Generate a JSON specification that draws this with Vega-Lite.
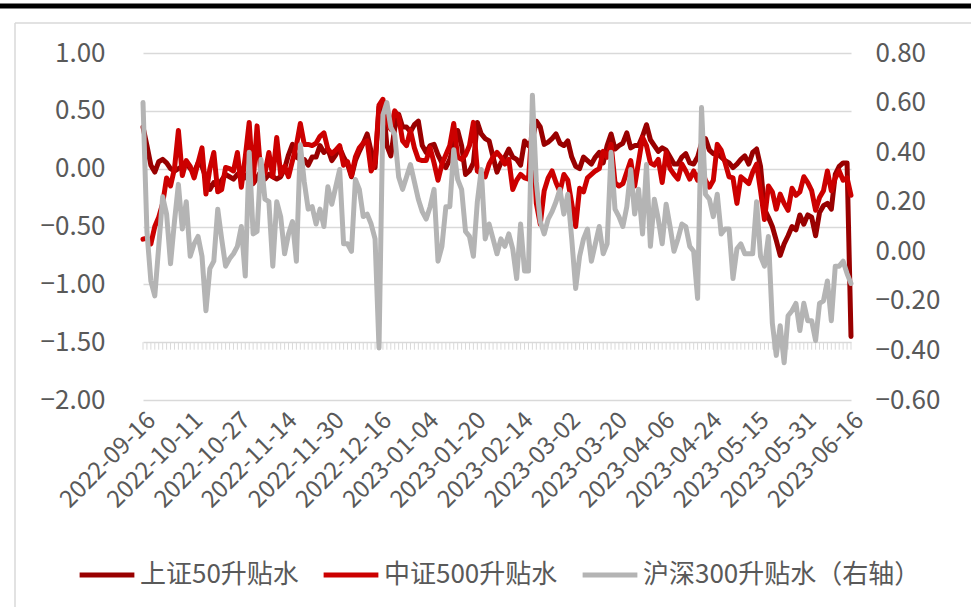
{
"$schema": "https://vega.github.io/schema/vega-lite/v6.json",
"width": 708, "height": 347,
"autosize": {"type": "none"},
"padding": {"left": 143, "top": 53, "right": 120, "bottom": 207},
"background": "white",
"config": {"view": {"stroke": null}},
"data": {"values": [
{"d":"2022-09-16","上证50升贴水":0.36,"中证500升贴水":-0.61,"沪深300升贴水（右轴）":0.60},
{"d":"2022-09-19","上证50升贴水":0.20,"中证500升贴水":-0.60,"沪深300升贴水（右轴）":0.08},
{"d":"2022-09-20","上证50升贴水":0.03,"中证500升贴水":-0.65,"沪深300升贴水（右轴）":-0.12},
{"d":"2022-09-21","上证50升贴水":-0.03,"中证500升贴水":-0.50,"沪深300升贴水（右轴）":-0.18},
{"d":"2022-09-22","上证50升贴水":0.06,"中证500升贴水":-0.42,"沪深300升贴水（右轴）":0.02},
{"d":"2022-09-23","上证50升贴水":0.08,"中证500升贴水":-0.30,"沪深300升贴水（右轴）":0.22},
{"d":"2022-09-26","上证50升贴水":0.05,"中证500升贴水":-0.08,"沪深300升贴水（右轴）":0.15},
{"d":"2022-09-27","上证50升贴水":0.00,"中证500升贴水":-0.15,"沪深300升贴水（右轴）":-0.05},
{"d":"2022-09-28","上证50升贴水":-0.02,"中证500升贴水":0.00,"沪深300升贴水（右轴）":0.12},
{"d":"2022-09-29","上证50升贴水":0.00,"中证500升贴水":0.33,"沪深300升贴水（右轴）":0.27},
{"d":"2022-09-30","上证50升贴水":0.02,"中证500升贴水":-0.06,"沪深300升贴水（右轴）":0.09},
{"d":"2022-10-10","上证50升贴水":0.05,"中证500升贴水":0.07,"沪深300升贴水（右轴）":0.20},
{"d":"2022-10-11","上证50升贴水":0.00,"中证500升贴水":0.02,"沪深300升贴水（右轴）":-0.02},
{"d":"2022-10-12","上证50升贴水":-0.03,"中证500升贴水":-0.08,"沪深300升贴水（右轴）":0.03},
{"d":"2022-10-13","上证50升贴水":0.05,"中证500升贴水":0.05,"沪深300升贴水（右轴）":0.06},
{"d":"2022-10-14","上证50升贴水":0.02,"中证500升贴水":0.18,"沪深300升贴水（右轴）":-0.02},
{"d":"2022-10-17","上证50升贴水":-0.08,"中证500升贴水":-0.22,"沪深300升贴水（右轴）":-0.24},
{"d":"2022-10-18","上证50升贴水":-0.18,"中证500升贴水":0.00,"沪深300升贴水（右轴）":-0.07},
{"d":"2022-10-19","上证50升贴水":-0.12,"中证500升贴水":0.14,"沪深300升贴水（右轴）":-0.04},
{"d":"2022-10-20","上证50升贴水":-0.15,"中证500升贴水":-0.20,"沪深300升贴水（右轴）":0.17},
{"d":"2022-10-21","上证50升贴水":-0.10,"中证500升贴水":-0.18,"沪深300升贴水（右轴）":0.05},
{"d":"2022-10-24","上证50升贴水":-0.05,"中证500升贴水":0.01,"沪深300升贴水（右轴）":-0.06},
{"d":"2022-10-25","上证50升贴水":-0.07,"中证500升贴水":0.00,"沪深300升贴水（右轴）":-0.03},
{"d":"2022-10-26","上证50升贴水":-0.09,"中证500升贴水":-0.02,"沪深300升贴水（右轴）":-0.01},
{"d":"2022-10-27","上证50升贴水":-0.05,"中证500升贴水":0.14,"沪深300升贴水（右轴）":0.02},
{"d":"2022-10-28","上证50升贴水":-0.02,"中证500升贴水":-0.16,"沪深300升贴水（右轴）":0.10},
{"d":"2022-10-31","上证50升贴水":-0.08,"中证500升贴水":0.10,"沪深300升贴水（右轴）":-0.10},
{"d":"2022-11-01","上证50升贴水":-0.03,"中证500升贴水":0.40,"沪深300升贴水（右轴）":0.40},
{"d":"2022-11-02","上证50升贴水":-0.13,"中证500升贴水":-0.12,"沪深300升贴水（右轴）":0.07},
{"d":"2022-11-03","上证50升贴水":-0.08,"中证500升贴水":0.37,"沪深300升贴水（右轴）":0.08},
{"d":"2022-11-04","上证50升贴水":-0.02,"中证500升贴水":-0.06,"沪深300升贴水（右轴）":0.37},
{"d":"2022-11-07","上证50升贴水":-0.09,"中证500升贴水":-0.04,"沪深300升贴水（右轴）":0.21},
{"d":"2022-11-08","上证50升贴水":-0.05,"中证500升贴水":0.14,"沪深300升贴水（右轴）":0.20},
{"d":"2022-11-09","上证50升贴水":-0.07,"中证500升贴水":-0.07,"沪深300升贴水（右轴）":-0.06},
{"d":"2022-11-10","上证50升贴水":-0.09,"中证500升贴水":0.27,"沪深300升贴水（右轴）":0.20},
{"d":"2022-11-11","上证50升贴水":-0.07,"中证500升贴水":-0.05,"沪深300升贴水（右轴）":0.14},
{"d":"2022-11-14","上证50升贴水":0.00,"中证500升贴水":0.02,"沪深300升贴水（右轴）":-0.01},
{"d":"2022-11-15","上证50升贴水":0.12,"中证500升贴水":-0.07,"沪深300升贴水（右轴）":0.07},
{"d":"2022-11-16","上证50升贴水":0.21,"中证500升贴水":0.07,"沪深300升贴水（右轴）":0.12},
{"d":"2022-11-17","上证50升贴水":0.10,"中证500升贴水":0.20,"沪深300升贴水（右轴）":-0.04},
{"d":"2022-11-18","上证50升贴水":0.08,"中证500升贴水":0.39,"沪深300升贴水（右轴）":0.43},
{"d":"2022-11-21","上证50升贴水":0.08,"中证500升贴水":0.21,"沪深300升贴水（右轴）":0.28},
{"d":"2022-11-22","上证50升贴水":0.03,"中证500升贴水":0.21,"沪深300升贴水（右轴）":0.17},
{"d":"2022-11-23","上证50升贴水":0.10,"中证500升贴水":0.20,"沪深300升贴水（右轴）":0.18},
{"d":"2022-11-24","上证50升贴水":0.10,"中证500升贴水":0.22,"沪深300升贴水（右轴）":0.11},
{"d":"2022-11-25","上证50升贴水":0.20,"中证500升贴水":0.28,"沪深300升贴水（右轴）":0.17},
{"d":"2022-11-28","上证50升贴水":0.14,"中证500升贴水":0.31,"沪深300升贴水（右轴）":0.10},
{"d":"2022-11-29","上证50升贴水":0.17,"中证500升贴水":0.17,"沪深300升贴水（右轴）":0.26},
{"d":"2022-11-30","上证50升贴水":0.07,"中证500升贴水":0.13,"沪深300升贴水（右轴）":0.19},
{"d":"2022-12-01","上证50升贴水":0.12,"中证500升贴水":0.16,"沪深300升贴水（右轴）":0.26},
{"d":"2022-12-02","上证50升贴水":0.18,"中证500升贴水":0.20,"沪深300升贴水（右轴）":0.33},
{"d":"2022-12-05","上证50升贴水":0.10,"中证500升贴水":0.03,"沪深300升贴水（右轴）":0.03},
{"d":"2022-12-06","上证50升贴水":0.04,"中证500升贴水":0.06,"沪深300升贴水（右轴）":0.03},
{"d":"2022-12-07","上证50升贴水":-0.07,"中证500升贴水":-0.06,"沪深300升贴水（右轴）":0.00},
{"d":"2022-12-08","上证50升贴水":0.07,"中证500升贴水":0.10,"沪深300升贴水（右轴）":0.29},
{"d":"2022-12-09","上证50升贴水":0.15,"中证500升贴水":0.18,"沪深300升贴水（右轴）":0.25},
{"d":"2022-12-12","上证50升贴水":0.22,"中证500升贴水":0.22,"沪深300升贴水（右轴）":0.14},
{"d":"2022-12-13","上证50升贴水":0.30,"中证500升贴水":0.24,"沪深300升贴水（右轴）":0.15},
{"d":"2022-12-14","上证50升贴水":0.15,"中证500升贴水":-0.02,"沪深300升贴水（右轴）":0.11},
{"d":"2022-12-15","上证50升贴水":0.01,"中证500升贴水":0.05,"沪深300升贴水（右轴）":0.05},
{"d":"2022-12-16","上证50升贴水":0.53,"中证500升贴水":0.55,"沪深300升贴水（右轴）":-0.39},
{"d":"2022-12-19","上证50升贴水":0.58,"中证500升贴水":0.60,"沪深300升贴水（右轴）":0.55},
{"d":"2022-12-20","上证50升贴水":0.20,"中证500升贴水":0.40,"沪深300升贴水（右轴）":0.60},
{"d":"2022-12-21","上证50升贴水":0.11,"中证500升贴水":0.34,"沪深300升贴水（右轴）":0.50},
{"d":"2022-12-22","上证50升贴水":0.35,"中证500升贴水":0.50,"沪深300升贴水（右轴）":0.47},
{"d":"2022-12-23","上证50升贴水":0.47,"中证500升贴水":0.45,"沪深300升贴水（右轴）":0.30},
{"d":"2022-12-26","上证50升贴水":0.36,"中证500升贴水":0.24,"沪深300升贴水（右轴）":0.25},
{"d":"2022-12-27","上证50升贴水":0.36,"中证500升贴水":0.20,"沪深300升贴水（右轴）":0.30},
{"d":"2022-12-28","上证50升贴水":0.32,"中证500升贴水":0.33,"沪深300升贴水（右轴）":0.35},
{"d":"2022-12-29","上证50升贴水":0.38,"中证500升贴水":0.18,"沪深300升贴水（右轴）":0.28},
{"d":"2022-12-30","上证50升贴水":0.41,"中证500升贴水":0.08,"沪深300升贴水（右轴）":0.21},
{"d":"2023-01-03","上证50升贴水":0.20,"中证500升贴水":0.07,"沪深300升贴水（右轴）":0.16},
{"d":"2023-01-04","上证50升贴水":0.14,"中证500升贴水":0.07,"沪深300升贴水（右轴）":0.13},
{"d":"2023-01-05","上证50升贴水":0.20,"中证500升贴水":0.18,"沪深300升贴水（右轴）":0.18},
{"d":"2023-01-06","上证50升贴水":0.21,"中证500升贴水":0.05,"沪深300升贴水（右轴）":0.25},
{"d":"2023-01-09","上证50升贴水":0.12,"中证500升贴水":-0.10,"沪深300升贴水（右轴）":-0.04},
{"d":"2023-01-10","上证50升贴水":0.05,"中证500升贴水":0.04,"沪深300升贴水（右轴）":0.02},
{"d":"2023-01-11","上证50升贴水":0.01,"中证500升贴水":0.12,"沪深300升贴水（右轴）":0.18},
{"d":"2023-01-12","上证50升贴水":0.08,"中证500升贴水":0.20,"沪深300升贴水（右轴）":0.18},
{"d":"2023-01-13","上证50升贴水":0.20,"中证500升贴水":0.39,"沪深300升贴水（右轴）":0.41},
{"d":"2023-01-16","上证50升贴水":0.33,"中证500升贴水":0.10,"沪深300升贴水（右轴）":0.29},
{"d":"2023-01-17","上证50升贴水":0.20,"中证500升贴水":0.08,"沪深300升贴水（右轴）":0.25},
{"d":"2023-01-18","上证50升贴水":-0.05,"中证500升贴水":0.12,"沪深300升贴水（右轴）":0.08},
{"d":"2023-01-19","上证50升贴水":-0.02,"中证500升贴水":0.20,"沪深300升贴水（右轴）":0.06},
{"d":"2023-01-20","上证50升贴水":0.05,"中证500升贴水":0.40,"沪深300升贴水（右轴）":-0.02},
{"d":"2023-01-30","上证50升贴水":0.40,"中证500升贴水":-0.02,"沪深300升贴水（右轴）":0.20},
{"d":"2023-01-31","上证50升贴水":0.30,"中证500升贴水":-0.04,"沪深300升贴水（右轴）":0.33},
{"d":"2023-02-01","上证50升贴水":0.26,"中证500升贴水":-0.07,"沪深300升贴水（右轴）":0.05},
{"d":"2023-02-02","上证50升贴水":0.24,"中证500升贴水":0.04,"沪深300升贴水（右轴）":0.11},
{"d":"2023-02-03","上证50升贴水":0.10,"中证500升贴水":0.10,"沪深300升贴水（右轴）":0.05},
{"d":"2023-02-06","上证50升贴水":-0.03,"中证500升贴水":0.14,"沪深300升贴水（右轴）":-0.01},
{"d":"2023-02-07","上证50升贴水":0.05,"中证500升贴水":0.10,"沪深300升贴水（右轴）":0.05},
{"d":"2023-02-08","上证50升贴水":0.10,"中证500升贴水":0.04,"沪深300升贴水（右轴）":0.02},
{"d":"2023-02-09","上证50升贴水":0.17,"中证500升贴水":0.08,"沪深300升贴水（右轴）":0.07},
{"d":"2023-02-10","上证50升贴水":0.10,"中证500升贴水":-0.18,"沪深300升贴水（右轴）":0.01},
{"d":"2023-02-13","上证50升贴水":0.08,"中证500升贴水":-0.10,"沪深300升贴水（右轴）":-0.11},
{"d":"2023-02-14","上证50升贴水":0.03,"中证500升贴水":-0.05,"沪深300升贴水（右轴）":0.11},
{"d":"2023-02-15","上证50升贴水":0.24,"中证500升贴水":-0.08,"沪深300升贴水（右轴）":-0.08},
{"d":"2023-02-16","上证50升贴水":0.20,"中证500升贴水":-0.09,"沪深300升贴水（右轴）":-0.08},
{"d":"2023-02-17","上证50升贴水":0.25,"中证500升贴水":0.39,"沪深300升贴水（右轴）":0.63},
{"d":"2023-02-20","上证50升贴水":0.41,"中证500升贴水":-0.30,"沪深300升贴水（右轴）":0.28},
{"d":"2023-02-21","上证50升贴水":0.36,"中证500升贴水":-0.48,"沪深300升贴水（右轴）":0.12},
{"d":"2023-02-22","上证50升贴水":0.21,"中证500升贴水":-0.19,"沪深300升贴水（右轴）":0.07},
{"d":"2023-02-23","上证50升贴水":0.23,"中证500升贴水":-0.08,"沪深300升贴水（右轴）":0.13},
{"d":"2023-02-24","上证50升贴水":0.26,"中证500升贴水":-0.02,"沪深300升贴水（右轴）":0.16},
{"d":"2023-02-27","上证50升贴水":0.30,"中证500升贴水":-0.12,"沪深300升贴水（右轴）":0.20},
{"d":"2023-02-28","上证50升贴水":0.22,"中证500升贴水":-0.20,"沪深300升贴水（右轴）":0.25},
{"d":"2023-03-01","上证50升贴水":0.20,"中证500升贴水":-0.05,"沪深300升贴水（右轴）":0.15},
{"d":"2023-03-02","上证50升贴水":0.24,"中证500升贴水":-0.10,"沪深300升贴水（右轴）":0.23},
{"d":"2023-03-03","上证50升贴水":0.10,"中证500升贴水":-0.30,"沪深300升贴水（右轴）":0.05},
{"d":"2023-03-06","上证50升贴水":0.02,"中证500升贴水":-0.50,"沪深300升贴水（右轴）":-0.15},
{"d":"2023-03-07","上证50升贴水":0.00,"中证500升贴水":-0.17,"沪深300升贴水（右轴）":-0.02},
{"d":"2023-03-08","上证50升贴水":0.10,"中证500升贴水":-0.20,"沪深300升贴水（右轴）":0.05},
{"d":"2023-03-09","上证50升贴水":0.07,"中证500升贴水":-0.08,"沪深300升贴水（右轴）":0.09},
{"d":"2023-03-10","上证50升贴水":0.04,"中证500升贴水":-0.05,"沪深300升贴水（右轴）":-0.04},
{"d":"2023-03-13","上证50升贴水":0.10,"中证500升贴水":-0.02,"沪深300升贴水（右轴）":0.03},
{"d":"2023-03-14","上证50升贴水":0.14,"中证500升贴水":0.00,"沪深300升贴水（右轴）":0.10},
{"d":"2023-03-15","上证50升贴水":0.05,"中证500升贴水":0.15,"沪深300升贴水（右轴）":-0.01},
{"d":"2023-03-16","上证50升贴水":0.20,"中证500升贴水":0.10,"沪深300升贴水（右轴）":0.03},
{"d":"2023-03-17","上证50升贴水":0.30,"中证500升贴水":0.21,"沪深300升贴水（右轴）":0.40},
{"d":"2023-03-20","上证50升贴水":0.17,"中证500升贴水":-0.12,"沪深300升贴水（右轴）":0.17},
{"d":"2023-03-21","上证50升贴水":0.20,"中证500升贴水":-0.15,"沪深300升贴水（右轴）":0.14},
{"d":"2023-03-22","上证50升贴水":0.22,"中证500升贴水":-0.13,"沪深300升贴水（右轴）":0.10},
{"d":"2023-03-23","上证50升贴水":0.31,"中证500升贴水":-0.03,"沪深300升贴水（右轴）":0.18},
{"d":"2023-03-24","上证50升贴水":0.18,"中证500升贴水":0.07,"沪深300升贴水（右轴）":0.33},
{"d":"2023-03-27","上证50升贴水":0.20,"中证500升贴水":-0.15,"沪深300升贴水（右轴）":0.15},
{"d":"2023-03-28","上证50升贴水":0.20,"中证500升贴水":0.06,"沪深300升贴水（右轴）":0.25},
{"d":"2023-03-29","上证50升贴水":0.28,"中证500升贴水":0.27,"沪深300升贴水（右轴）":0.07},
{"d":"2023-03-30","上证50升贴水":0.38,"中证500升贴水":0.20,"沪深300升贴水（右轴）":0.35},
{"d":"2023-03-31","上证50升贴水":0.25,"中证500升贴水":0.05,"沪深300升贴水（右轴）":0.02},
{"d":"2023-04-03","上证50升贴水":0.20,"中证500升贴水":0.03,"沪深300升贴水（右轴）":0.21},
{"d":"2023-04-04","上证50升贴水":0.15,"中证500升贴水":0.08,"沪深300升贴水（右轴）":0.13},
{"d":"2023-04-06","上证50升贴水":0.18,"中证500升贴水":-0.12,"沪深300升贴水（右轴）":0.03},
{"d":"2023-04-07","上证50升贴水":0.16,"中证500升贴水":0.14,"沪深300升贴水（右轴）":0.19},
{"d":"2023-04-10","上证50升贴水":0.10,"中证500升贴水":0.00,"沪深300升贴水（右轴）":0.10},
{"d":"2023-04-11","上证50升贴水":0.04,"中证500升贴水":-0.05,"沪深300升贴水（右轴）":0.00},
{"d":"2023-04-12","上证50升贴水":0.04,"中证500升贴水":-0.09,"沪深300升贴水（右轴）":0.05},
{"d":"2023-04-13","上证50升贴水":0.10,"中证500升贴水":0.04,"沪深300升贴水（右轴）":0.11},
{"d":"2023-04-14","上证50升贴水":0.13,"中证500升贴水":-0.02,"沪深300升贴水（右轴）":0.10},
{"d":"2023-04-17","上证50升贴水":0.05,"中证500升贴水":-0.09,"沪深300升贴水（右轴）":0.02},
{"d":"2023-04-18","上证50升贴水":0.04,"中证500升贴水":-0.02,"沪深300升贴水（右轴）":0.00},
{"d":"2023-04-19","上证50升贴水":0.10,"中证500升贴水":-0.10,"沪深300升贴水（右轴）":-0.19},
{"d":"2023-04-20","上证50升贴水":0.22,"中证500升贴水":0.00,"沪深300升贴水（右轴）":0.58},
{"d":"2023-04-21","上证50升贴水":0.26,"中证500升贴水":-0.10,"沪深300升贴水（右轴）":0.23},
{"d":"2023-04-24","上证50升贴水":0.16,"中证500升贴水":-0.16,"沪深300升贴水（右轴）":0.21},
{"d":"2023-04-25","上证50升贴水":0.13,"中证500升贴水":-0.10,"沪深300升贴水（右轴）":0.14},
{"d":"2023-04-26","上证50升贴水":0.13,"中证500升贴水":0.21,"沪深300升贴水（右轴）":0.23},
{"d":"2023-04-27","上证50升贴水":0.10,"中证500升贴水":0.16,"沪深300升贴水（右轴）":0.07},
{"d":"2023-04-28","上证50升贴水":0.07,"中证500升贴水":0.05,"沪深300升贴水（右轴）":0.09},
{"d":"2023-05-04","上证50升贴水":0.05,"中证500升贴水":-0.07,"沪深300升贴水（右轴）":0.09},
{"d":"2023-05-05","上证50升贴水":0.01,"中证500升贴水":-0.08,"沪深300升贴水（右轴）":-0.11},
{"d":"2023-05-08","上证50升贴水":0.04,"中证500升贴水":-0.30,"沪深300升贴水（右轴）":0.01},
{"d":"2023-05-09","上证50升贴水":0.08,"中证500升贴水":-0.07,"沪深300升贴水（右轴）":0.03},
{"d":"2023-05-10","上证50升贴水":0.11,"中证500升贴水":-0.10,"沪深300升贴水（右轴）":-0.01},
{"d":"2023-05-11","上证50升贴水":0.04,"中证500升贴水":-0.13,"沪深300升贴水（右轴）":-0.01},
{"d":"2023-05-12","上证50升贴水":0.14,"中证500升贴水":-0.03,"沪深300升贴水（右轴）":-0.01},
{"d":"2023-05-15","上证50升贴水":0.17,"中证500升贴水":0.04,"沪深300升贴水（右轴）":0.20},
{"d":"2023-05-16","上证50升贴水":0.02,"中证500升贴水":-0.19,"沪深300升贴水（右轴）":-0.02},
{"d":"2023-05-17","上证50升贴水":-0.35,"中证500升贴水":-0.44,"沪深300升贴水（右轴）":-0.06},
{"d":"2023-05-18","上证50升贴水":-0.42,"中证500升贴水":-0.15,"沪深300升贴水（右轴）":0.06},
{"d":"2023-05-19","上证50升贴水":-0.50,"中证500升贴水":-0.20,"沪深300升贴水（右轴）":-0.29},
{"d":"2023-05-22","上证50升贴水":-0.62,"中证500升贴水":-0.35,"沪深300升贴水（右轴）":-0.42},
{"d":"2023-05-23","上证50升贴水":-0.75,"中证500升贴水":-0.22,"沪深300升贴水（右轴）":-0.30},
{"d":"2023-05-24","上证50升贴水":-0.65,"中证500升贴水":-0.30,"沪深300升贴水（右轴）":-0.45},
{"d":"2023-05-25","上证50升贴水":-0.58,"中证500升贴水":-0.36,"沪深300升贴水（右轴）":-0.26},
{"d":"2023-05-26","上证50升贴水":-0.50,"中证500升贴水":-0.17,"沪深300升贴水（右轴）":-0.24},
{"d":"2023-05-29","上证50升贴水":-0.53,"中证500升贴水":-0.23,"沪深300升贴水（右轴）":-0.21},
{"d":"2023-05-30","上证50升贴水":-0.40,"中证500升贴水":-0.20,"沪深300升贴水（右轴）":-0.32},
{"d":"2023-05-31","上证50升贴水":-0.48,"中证500升贴水":-0.07,"沪深300升贴水（右轴）":-0.21},
{"d":"2023-06-01","上证50升贴水":-0.40,"中证500升贴水":-0.12,"沪深300升贴水（右轴）":-0.28},
{"d":"2023-06-02","上证50升贴水":-0.42,"中证500升贴水":-0.19,"沪深300升贴水（右轴）":-0.28},
{"d":"2023-06-05","上证50升贴水":-0.58,"中证500升贴水":-0.36,"沪深300升贴水（右轴）":-0.36},
{"d":"2023-06-06","上证50升贴水":-0.38,"中证500升贴水":-0.25,"沪深300升贴水（右轴）":-0.21},
{"d":"2023-06-07","上证50升贴水":-0.32,"中证500升贴水":-0.19,"沪深300升贴水（右轴）":-0.20},
{"d":"2023-06-08","上证50升贴水":-0.30,"中证500升贴水":-0.02,"沪深300升贴水（右轴）":-0.12},
{"d":"2023-06-09","上证50升贴水":-0.35,"中证500升贴水":-0.19,"沪深300升贴水（右轴）":-0.28},
{"d":"2023-06-12","上证50升贴水":-0.05,"中证500升贴水":-0.08,"沪深300升贴水（右轴）":-0.06},
{"d":"2023-06-13","上证50升贴水":0.02,"中证500升贴水":-0.02,"沪深300升贴水（右轴）":-0.06},
{"d":"2023-06-14","上证50升贴水":0.05,"中证500升贴水":-0.10,"沪深300升贴水（右轴）":-0.04},
{"d":"2023-06-15","上证50升贴水":0.05,"中证500升贴水":-0.08,"沪深300升贴水（右轴）":-0.09},
{"d":"2023-06-16","上证50升贴水":-1.45,"中证500升贴水":-0.23,"沪深300升贴水（右轴）":-0.13}
]},
"layer": [
 {"layer": [
  {"transform": [{"fold": ["上证50升贴水", "中证500升贴水"], "as": ["s", "v"]}],
   "mark": {"type": "line", "strokeWidth": 5, "strokeCap": "round", "strokeJoin": "round"},
   "encoding": {
     "x": {"field": "d", "type": "ordinal", "scale": {"type": "point", "padding": 0},
       "axis": {"title": null, "values": ["2022-09-16","2022-10-11","2022-10-27","2022-11-14","2022-11-30","2022-12-16","2023-01-04","2023-01-20","2023-02-14","2023-03-02","2023-03-20","2023-04-06","2023-04-24","2023-05-15","2023-05-31","2023-06-16"],
         "labelAngle": -45, "domain": false, "ticks": false, "grid": false, "labelPadding": 8,
         "labelFont": "Noto Sans CJK SC", "labelFontSize": 24, "labelColor": "#595959"}},
     "y": {"field": "v", "type": "quantitative", "scale": {"domain": [-2, 1], "nice": false, "zero": false},
       "axis": {"orient": "left", "title": null, "values": [-2, -1.5, -1, -0.5, 0, 0.5, 1], "format": ".2f",
         "grid": true, "gridColor": "#d9d9d9", "gridWidth": 1.3, "domain": false, "ticks": false, "labelPadding": 38,
         "labelFont": "Noto Sans CJK SC", "labelFontSize": 26, "labelColor": "#595959"}},
     "color": {"field": "s", "type": "nominal",
       "scale": {"domain": ["上证50升贴水", "中证500升贴水", "沪深300升贴水（右轴）"], "range": ["#990000", "#CC0000", "#B4B4B4"]},
       "legend": {"title": null, "orient": "none", "legendX": -66, "legendY": 492, "direction": "horizontal",
         "symbolType": "stroke", "symbolStrokeWidth": 5, "symbolSize": 3000, "labelFont": "Noto Sans CJK SC",
         "labelFontSize": 26, "labelColor": "#595959", "labelOffset": 3, "columnPadding": 14, "labelLimit": 400}}}},
  {"mark": {"type": "rule", "color": "#d9d9d9", "strokeWidth": 1},
   "encoding": {
     "x": {"field": "d", "type": "ordinal"},
     "y": {"datum": -1.5, "type": "quantitative"},
     "y2": {"datum": -1.565}}}
 ]},
 {"transform": [{"fold": ["沪深300升贴水（右轴）"], "as": ["s", "v"]}],
  "mark": {"type": "line", "strokeWidth": 5, "strokeCap": "round", "strokeJoin": "round"},
  "encoding": {
    "x": {"field": "d", "type": "ordinal"},
    "y": {"field": "v", "type": "quantitative", "scale": {"domain": [-0.6, 0.8], "nice": false, "zero": false},
      "axis": {"orient": "right", "title": null, "values": [-0.6, -0.4, -0.2, 0, 0.2, 0.4, 0.6, 0.8], "format": ".2f",
        "grid": false, "domain": false, "ticks": false, "labelPadding": 24,
        "labelFont": "Noto Sans CJK SC", "labelFontSize": 26, "labelColor": "#595959"}},
    "color": {"field": "s", "type": "nominal",
      "scale": {"domain": ["上证50升贴水", "中证500升贴水", "沪深300升贴水（右轴）"], "range": ["#990000", "#CC0000", "#B4B4B4"]}}}},
 {"data": {"values": [{}]},
  "layer": [
   {"mark": {"type": "rule", "color": "#000000", "strokeWidth": 5}, "encoding": {"x": {"value": -143}, "x2": {"value": 828}, "y": {"value": -47}}},
   {"mark": {"type": "rule", "color": "#d9d9d9", "strokeWidth": 1.5}, "encoding": {"x": {"value": -128}, "x2": {"value": 828}, "y": {"value": -30}}},
   {"mark": {"type": "rule", "color": "#d9d9d9", "strokeWidth": 1.5}, "encoding": {"x": {"value": -128}, "y": {"value": -30}, "y2": {"value": 554}}}
  ]}
],
"resolve": {"scale": {"y": "independent"}}
}
